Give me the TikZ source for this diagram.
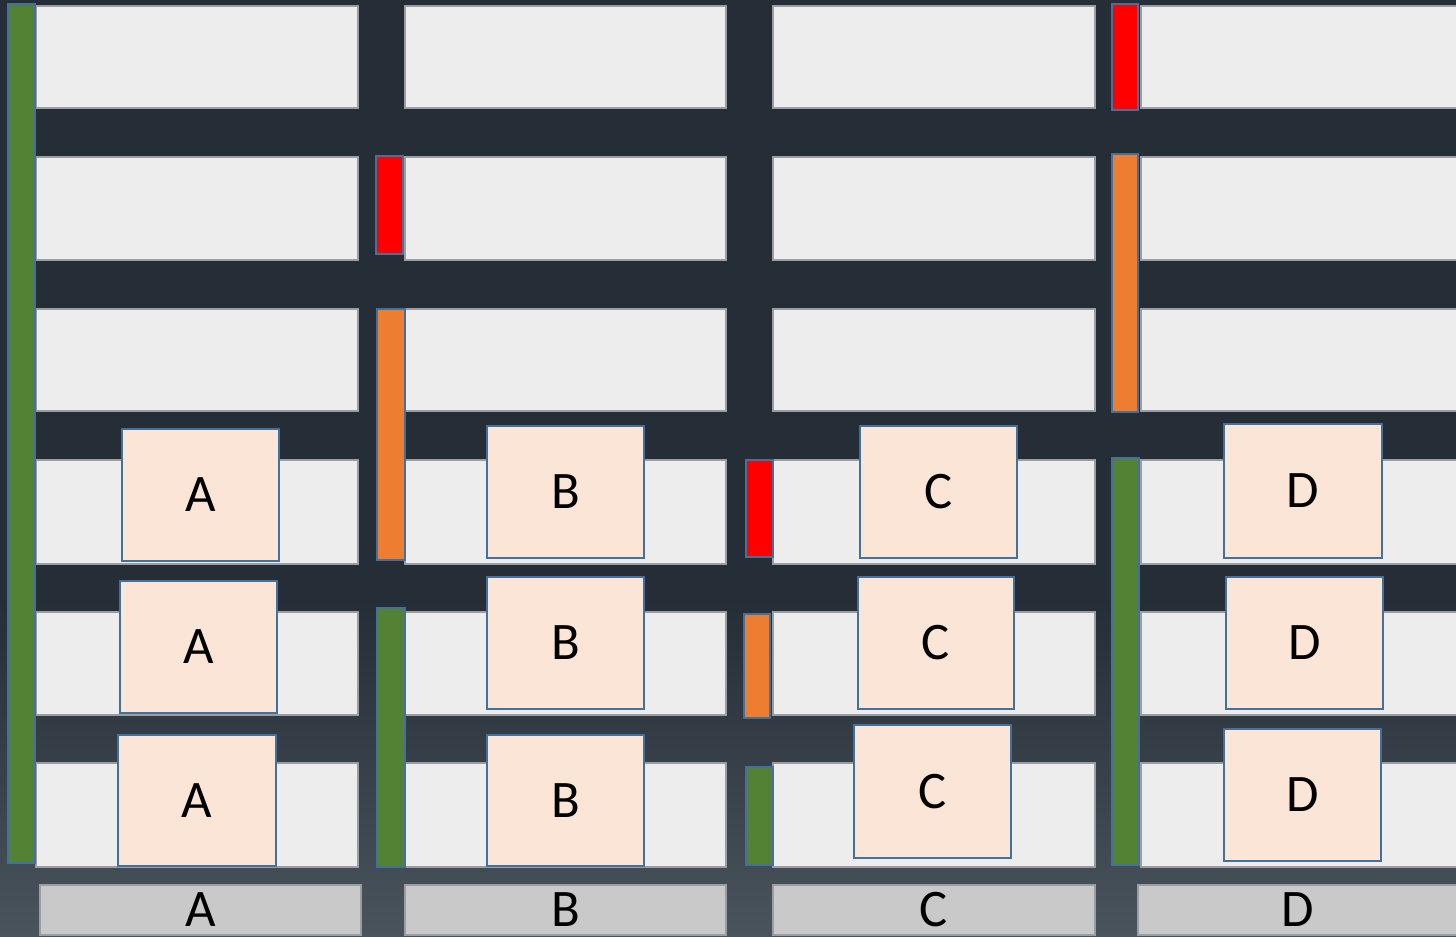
\documentclass[tikz,border=0pt]{standalone}
\usepackage{fontspec}
\setmainfont{Carlito}
\definecolor{bgdark}{HTML}{252D36}
\definecolor{bglight}{HTML}{4A545D}
\definecolor{cellgray}{HTML}{EDEDED}
\definecolor{cellline}{HTML}{9A9EA2}
\definecolor{barblue}{HTML}{41719C}
\definecolor{bargreen}{HTML}{548235}
\definecolor{barred}{HTML}{FF0000}
\definecolor{barorange}{HTML}{ED7D31}
\definecolor{peach}{HTML}{FBE5D6}
\definecolor{labelgray}{HTML}{C9C9C9}
\tikzset{
  cell/.style={fill=cellgray, draw=cellline, line width=0.3pt},
  barbox/.style={draw=barblue, line width=0.75pt},
  gbar/.style={barbox, fill=bargreen},
  rbar/.style={barbox, fill=barred},
  obar/.style={barbox, fill=barorange},
  slot/.style={draw=barblue, fill=peach, line width=0.75pt},
  slottext/.style={font=\fontsize{15}{18}\selectfont, text=black, inner sep=0pt},
  lab/.style={fill=labelgray, draw=cellline, line width=0.3pt},
}
\begin{document}
\begin{tikzpicture}[x=0.01cm, y=-0.01cm]
\useasboundingbox (0,0) rectangle (1456,937);
% background
\fill[bgdark] (0,0) rectangle (1456,600);
\shade[top color=bgdark, bottom color=bglight] (0,599) rectangle (1456,937);
% cells
\foreach \xa/\xb in {36/358, 405/726, 773/1095, 1141/1458} {
  \foreach \ya/\yb in {6/108, 157/260, 309/411, 460/564, 612/715, 763/867} {
    \path[cell] (\xa,\ya) rectangle (\xb,\yb);
  }
}
% bottom labels
\path[lab] (40,885) rectangle (361,935) node[midway, slottext] (la) {A};
\path[lab] (405,885) rectangle (726,935) node[midway, slottext] (lb) {B};
\path[lab] (773,885) rectangle (1095,935) node[midway, slottext] (lc) {C};
\path[lab] (1138,885) rectangle (1458,935) node[midway, slottext] (ld) {D};
% bars
\path[gbar] (8,4) rectangle (35,863);
\path[rbar] (376,156) rectangle (403,254);
\path[obar] (377,309) rectangle (405,560);
\path[gbar] (377,608) rectangle (405,867);
\path[rbar] (746,460) rectangle (773,557);
\path[obar] (744,614) rectangle (770,718);
\path[gbar] (746,767) rectangle (773,865);
\path[rbar] (1112,4) rectangle (1138,110);
\path[obar] (1112,154) rectangle (1138,412);
\path[gbar] (1112,458) rectangle (1139,865);
% slots
\path[slot] (122,429) rectangle (279,561) node[midway, slottext] (a1) {A};
\path[slot] (120,581) rectangle (277,713) node[midway, slottext] (a2) {A};
\path[slot] (118,735) rectangle (276,866) node[midway, slottext] (a3) {A};
\path[slot] (487,426) rectangle (644,558) node[midway, slottext] (b1) {B};
\path[slot] (487,577) rectangle (644,709) node[midway, slottext] (b2) {B};
\path[slot] (487,735) rectangle (644,866) node[midway, slottext] (b3) {B};
\path[slot] (860,426) rectangle (1017,558) node[midway, slottext] (c1) {C};
\path[slot] (858,577) rectangle (1014,709) node[midway, slottext] (c2) {C};
\path[slot] (854,725) rectangle (1011,858) node[midway, slottext] (c3) {C};
\path[slot] (1224,424) rectangle (1382,558) node[midway, slottext] (d1) {D};
\path[slot] (1226,577) rectangle (1383,709) node[midway, slottext] (d2) {D};
\path[slot] (1224,729) rectangle (1381,861) node[midway, slottext] (d3) {D};
\end{tikzpicture}
\end{document}
